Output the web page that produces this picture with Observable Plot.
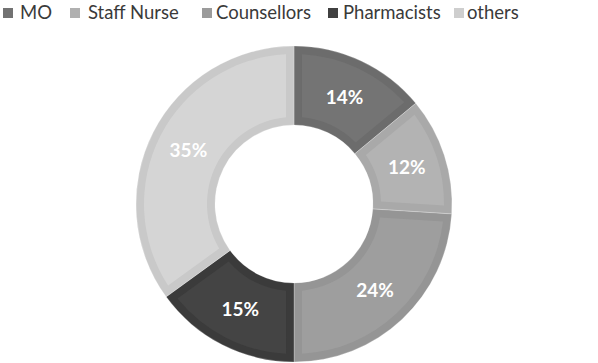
<!DOCTYPE html>
<html>
<head>
<meta charset="utf-8">
<script src="https://cdn.jsdelivr.net/npm/d3@7"></script>
<script src="https://cdn.jsdelivr.net/npm/@observablehq/plot@0.6"></script>
<style>
  body { margin: 0; background: #fff; font-family: Lato, "Open Sans", sans-serif; }
  #chart { position: relative; width: 598px; height: 363px; }
  .legend { position: relative; height: 27px; }
  .sw { position: absolute; top: 8px; width: 10px; height: 10px; }
  .lbl { position: absolute; top: 1px; font-size: 18.5px; color: #3a3a3a; white-space: nowrap; line-height: 22px; }
</style>
</head>
<body>
<div id="chart"></div>
<script>
const categories = ["MO", "Staff Nurse", "Counsellors", "Pharmacists", "others"];
const values = [14, 12, 24, 15, 35];
const labels = ["14%", "12%", "24%", "15%", "35%"];
const fillColors = ["#747474", "#b3b3b3", "#9e9e9e", "#444444", "#d5d5d5"];
const rimColors = ["#6c6c6c", "#a9a9a9", "#959595", "#3b3b3b", "#c9c9c9"];
const swatchColors = ["#727272", "#b0b0b0", "#9b9b9b", "#404040", "#cecece"];

// legend layout: [swatch left, text left]
const legendLayout = [[3, 20], [70, 88], [202, 216], [328, 343], [454, 467]];

const data = categories.map((c, i) => ({category: c, value: values[i], label: labels[i]}));

const fillScale = Plot.scale({color: {type: "ordinal", domain: categories, range: fillColors}});
const rimScale = Plot.scale({color: {type: "ordinal", domain: categories, range: rimColors}});
const swatchScale = Plot.scale({color: {type: "ordinal", domain: categories, range: swatchColors}});

const root = document.getElementById("chart");

// Legend
const legend = document.createElement("div");
legend.className = "legend";
categories.forEach((c, i) => {
  const sw = document.createElement("div");
  sw.className = "sw";
  sw.style.left = legendLayout[i][0] + "px";
  sw.style.background = swatchScale.apply(c);
  const t = document.createElement("div");
  t.className = "lbl";
  t.style.left = legendLayout[i][1] + "px";
  t.textContent = c;
  legend.appendChild(sw);
  legend.appendChild(t);
});
root.appendChild(legend);

const W = 598, H = 336;
const cx = 294, cy = 177, R = 158, r0 = 79, inset = 8;

const donut = (index, scales, vals, dimensions) => {
  const pie = d3.pie().sort(null).value(d => d.value)(data);
  const g = d3.create("svg:g").attr("transform", `translate(${cx},${cy})`);
  const outer = d3.arc().innerRadius(r0).outerRadius(R);
  const inner = d3.arc().innerRadius(r0 + inset).outerRadius(R - inset)
    .padRadius(100).padAngle(2 * inset / 100);
  g.selectAll("path.rim").data(pie).join("path")
    .attr("class", "rim")
    .attr("d", outer)
    .attr("fill", d => rimScale.apply(d.data.category))
    .attr("stroke", "#ffffff").attr("stroke-width", 0.6).attr("stroke-opacity", 0.4);
  g.selectAll("path.face").data(pie).join("path")
    .attr("class", "face")
    .attr("d", inner)
    .attr("fill", d => fillScale.apply(d.data.category));
  g.selectAll("text").data(pie).join("text")
    .attr("transform", d => `translate(${outer.centroid(d)})`)
    .attr("text-anchor", "middle")
    .attr("dy", "0.36em")
    .attr("fill", "#ffffff")
    .attr("font-family", "Lato, sans-serif")
    .attr("font-weight", "bold")
    .attr("font-size", 19)
    .text(d => d.data.label);
  return g.node();
};

const plot = Plot.plot({
  width: W,
  height: H,
  margin: 0,
  x: {axis: null},
  y: {axis: null},
  style: {background: "#ffffff", fontFamily: "Lato, sans-serif"},
  marks: [donut]
});
root.appendChild(plot);
</script>
</body>
</html>
